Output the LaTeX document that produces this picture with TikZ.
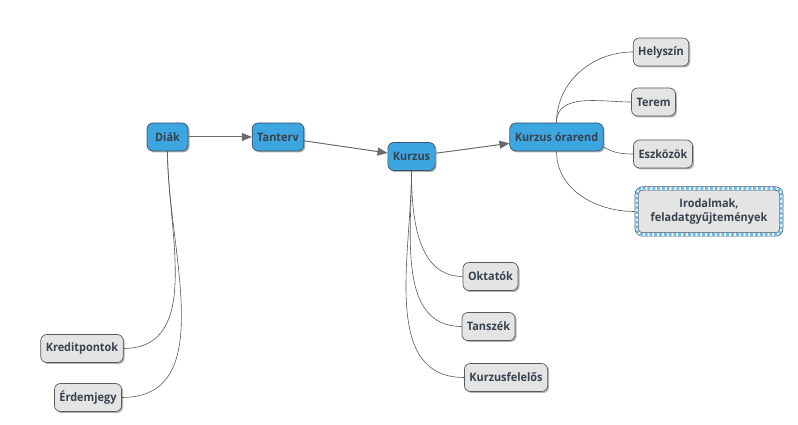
\documentclass[tikz,border=0pt]{standalone}
\usepackage{fontspec}
\setmainfont[FakeStretch=0.94]{Open Sans}
\usetikzlibrary{arrows.meta,shadows}
\definecolor{topicblue}{HTML}{3DA5E0}
\definecolor{topicedge}{HTML}{3A5468}
\definecolor{subfill}{HTML}{E4E4E4}
\definecolor{subedge}{HTML}{5A5A5A}
\definecolor{txt}{HTML}{38424E}
\definecolor{dashblue}{HTML}{74BCE8}
\begin{document}
\begin{tikzpicture}[x=1pt,y=1pt,
    every node/.style={font=\bfseries\fontsize{11.6}{13.5}\selectfont, text=txt,
      rounded corners=6pt, minimum height=28pt, minimum width=41pt, inner xsep=5pt,
      drop shadow={shadow xshift=1.5pt, shadow yshift=-1.5pt, opacity=0.3, fill=black}},
    topic/.style={fill=topicblue, draw=topicedge, line width=0.7pt},
    sub/.style={fill=subfill, draw=subedge, line width=0.7pt},
    marked/.style={fill=subfill, draw=topicedge, line width=4pt, align=center,
      minimum height=46pt, inner xsep=14pt,
      postaction={draw=white, line width=2.6pt},
      postaction={draw=dashblue, line width=2.6pt, dash pattern=on 3pt off 1.8pt}},
    flow/.style={draw=black!58, line width=1pt, -{Triangle[length=10pt,width=8pt]}},
    branch/.style={draw=black!65, line width=0.6pt}]
  \useasboundingbox (0,0) rectangle (798,425);
  \draw
    (167.5,288) node[topic] (diak){Diák}
    (278,288) node[topic] (tanterv){Tanterv}
    (411.5,268.5) node[topic] (kurzus){Kurzus}
    (556.5,288) node[topic] (orarend){Kurzus órarend}
    (661,373) node[sub] (helyszin){Helyszín}
    (653.5,323) node[sub] (terem){Terem}
    (663,271) node[sub] (eszkozok){Eszközök}
    (709,213.5) node[marked] (irodalom){Irodalmak,\\feladatgyűjtemények}
    (490.5,148.5) node[sub] (oktatok){Oktatók}
    (488.5,98.5) node[sub] (tanszek){Tanszék}
    (506,47.5) node[sub] (felelos){Kurzusfelelős}
    (82,76.5) node[sub] (kredit){Kreditpontok}
    (88,27.5) node[sub] (jegy){Érdemjegy};
  \begin{scope}[flow]
    \draw (diak) to (tanterv);
    \draw (tanterv) to (kurzus);
    \draw (kurzus) to (orarend);
  \end{scope}
  \begin{scope}[branch]
    \draw (orarend.north) to[out=90, in=180] (helyszin.west);
    \draw (orarend.north) to[out=90, in=180] (terem.west);
    \draw (orarend.-12) to[out=-30, in=180] (eszkozok.west);
    \draw (orarend.south) to[out=-90, in=180] (irodalom.west);
    \draw (kurzus.south) to[out=-90, in=180] (oktatok.west);
    \draw (kurzus.south) to[out=-90, in=180] (tanszek.west);
    \draw (kurzus.south) to[out=-90, in=180] (felelos.west);
    \draw (diak.south) to[out=-90, in=0] (kredit.east);
    \draw (diak.south) to[out=-90, in=0] (jegy.east);
  \end{scope}
\end{tikzpicture}
\end{document}
